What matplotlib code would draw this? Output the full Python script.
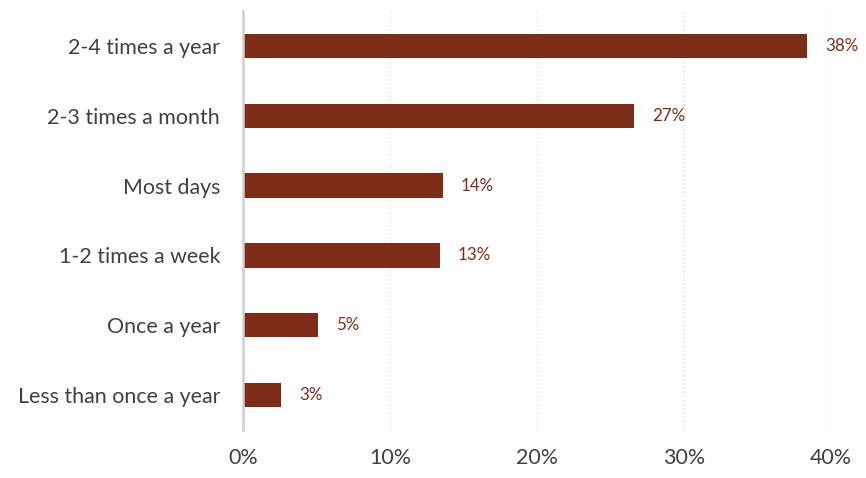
import matplotlib.pyplot as plt
from matplotlib.ticker import FuncFormatter

# survey answers, listed bottom to top
categories = ["Less than once a year", "Once a year", "1-2 times a week",
              "Most days", "2-3 times a month", "2-4 times a year"]
shares = [2.6, 5.1, 13.4, 13.6, 26.6, 38.4]

bar_color = "#7D2C17"
text_color = "#404040"

plt.rcParams['font.family'] = ['Lato', 'DejaVu Sans']

fig = plt.figure(figsize=(8.66, 4.78), dpi=100)
ax = fig.add_axes([0.2806, 0.1004, 0.679, 0.8766])

ypos = range(len(categories))
ax.barh(ypos, shares, height=0.35, color=bar_color, zorder=3)

for y, v in zip(ypos, shares):
    ax.text(v + 1.2, y, f"{v:.0f}%", va="center", ha="left",
            fontsize=12.2, color=bar_color)

ax.set_xlim(0, 40)
ax.set_ylim(-0.5, len(categories) - 0.5)
ax.set_xticks([0, 10, 20, 30, 40])
ax.xaxis.set_major_formatter(FuncFormatter(lambda x, _: f"{x:.0f}%"))
ax.set_yticks(list(ypos))
ax.set_yticklabels(categories)

ax.tick_params(axis="both", length=0, labelsize=15.4, labelcolor=text_color)
ax.tick_params(axis="x", pad=13)
ax.tick_params(axis="y", pad=16.5)

ax.grid(axis="x", color="#DDDDDD", linestyle=(0, (1, 2)), linewidth=1, zorder=0)
ax.set_axisbelow(True)
for side in ["top", "right", "bottom"]:
    ax.spines[side].set_visible(False)
ax.spines["left"].set_color("#D0D0D0")
ax.spines["left"].set_linewidth(1.8)
ax.spines["left"].set_zorder(4)

fig.savefig("out.png", dpi=100)
